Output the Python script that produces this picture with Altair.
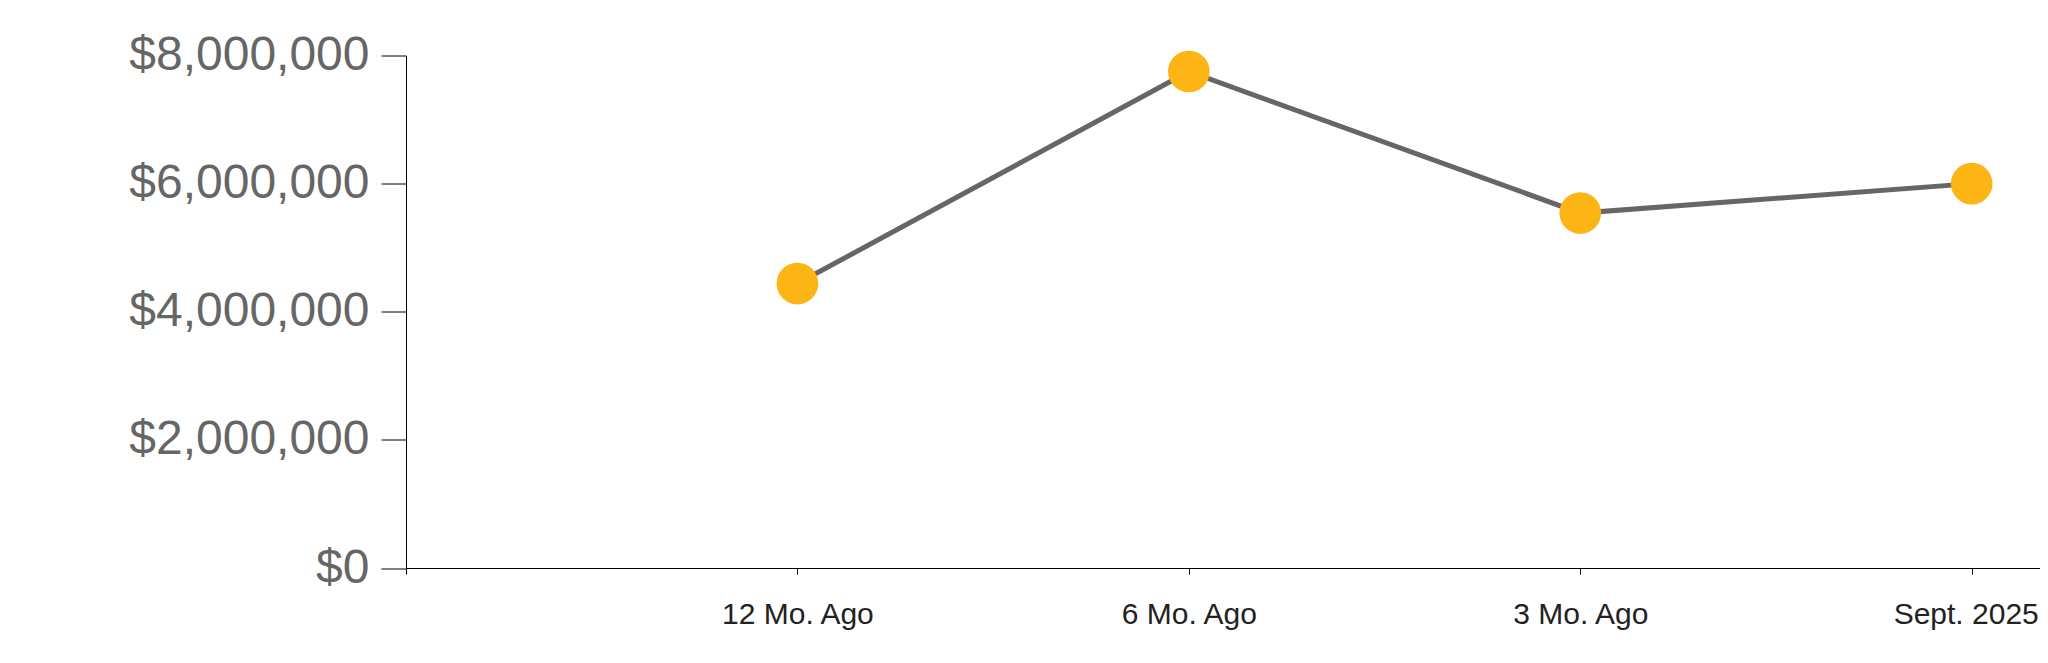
import json
import altair as alt
import pandas as pd

# Data
categories = ["12 Mo. Ago", "6 Mo. Ago", "3 Mo. Ago", "Sept. 2025"]
values = [4440000, 7750000, 5540000, 6000000]
tick_labels = [""] + categories  # first tick at the axis origin has no label

df = pd.DataFrame({
    "category": categories,
    "pos": list(range(1, len(categories) + 1)),
    "value": values,
})

label_expr = json.dumps(tick_labels) + "[datum.value]"
last_pos = len(categories)

x_enc = alt.X(
    "pos:Q",
    scale=alt.Scale(domain=[0, 4.1745], nice=False, zero=False),
    axis=alt.Axis(
        title=None,
        values=list(range(0, len(tick_labels))),
        labelExpr=label_expr,
        grid=False,
        domainColor="#000000",
        tickColor="#000000",
        domainWidth=1,
        tickWidth=1,
        tickSize=6,
        labelPadding=25,
        labelFont="Liberation Sans",
        labelFontSize=30,
        labelColor="#222222",
        labelAlign="center",
        labelOverlap=False,
        labelFlush=False,
        labelLimit=0,
        labelOffset={"condition": {"test": f"datum.value == {last_pos}", "value": -6}, "value": 0},
    ),
)

y_enc = alt.Y(
    "value:Q",
    scale=alt.Scale(domain=[0, 8000000], nice=False),
    axis=alt.Axis(
        title=None,
        values=[0, 2000000, 4000000, 6000000, 8000000],
        format="$,.0f",
        grid=False,
        domainColor="#000000",
        tickColor="#000000",
        domainWidth=1,
        tickWidth=1,
        tickSize=25,
        labelPadding=12,
        labelFont="Liberation Sans",
        labelFontSize=48,
        labelColor="#666666",
        labelFlush=False,
        labelLimit=0,
    ),
)

base = alt.Chart(df).encode(x=x_enc, y=y_enc)

line = base.mark_line(color="#666666", strokeWidth=5)
points = base.mark_circle(color="#FDB515", size=1740, opacity=1)

chart = (
    (line + points)
    .properties(
        width=1634,
        height=512.5,
        background="white",
        autosize=alt.AutoSizeParams(type="none"),
        padding={"left": 398, "top": 47.5, "right": 0, "bottom": 80},
    )
    .configure_view(stroke=None, strokeWidth=0)
)

chart.save("out.html", embed_options={"renderer": "svg", "actions": False})
